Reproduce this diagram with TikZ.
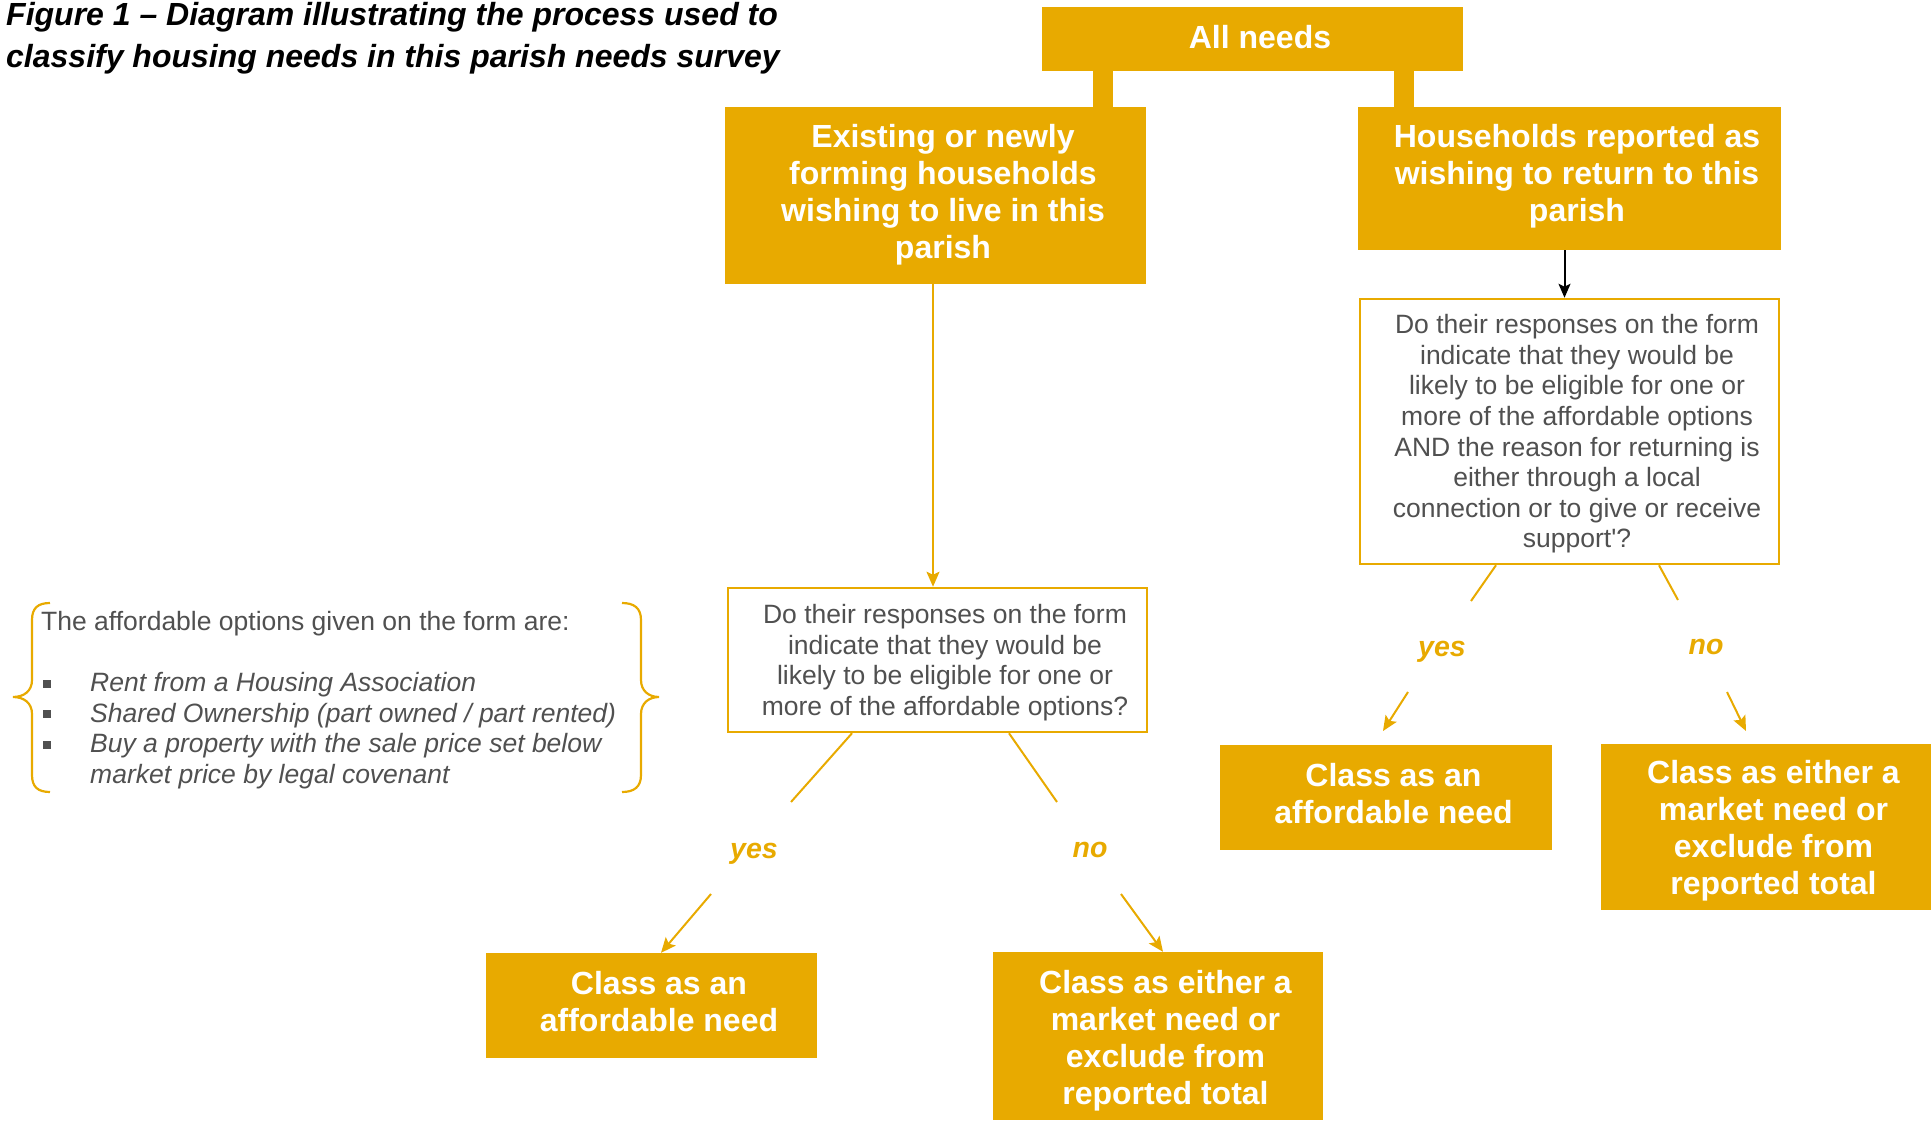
\documentclass[tikz,border=0pt]{standalone}
\usepackage{fontspec}
\setmainfont{Liberation Sans}
\usetikzlibrary{arrows.meta}
\definecolor{gold}{RGB}{232,170,0}
\definecolor{txtgray}{RGB}{80,80,80}
\newcommand{\sqbul}{\makebox[49pt][l]{\hspace{2pt}\textcolor{txtgray}{\rule[4pt]{8pt}{8pt}}}}
% centred lines, shifted right by 7.5pt; optional arg = twice the downward shift
\newcommand{\btxt}[2][0pt]{\raisebox{0pt}[\dimexpr\height+#1\relax][\depth]{%
  \begin{tabular}{@{\hspace{15pt}}c@{}}#2\end{tabular}}}
\begin{document}
\begin{tikzpicture}[x=1pt,y=-1pt,
  fbox/.style={rectangle, fill=gold, text=white, inner sep=0pt,
    font=\fontsize{32pt}{37pt}\selectfont\bfseries},
  qbox/.style={rectangle, draw=gold, line width=2.5pt, fill=white, text=txtgray, inner sep=0pt,
    font=\fontsize{26.5pt}{30.6pt}\selectfont},
  lbl/.style={inner sep=0pt, text=gold, font=\fontsize{28.5pt}{30pt}\selectfont\bfseries\itshape},
  stem/.style={draw=gold, line width=20pt, shorten <=-1pt, shorten >=-1pt},
  link/.style={draw=gold, line width=2pt},
  arr/.style={draw=gold, line width=2pt, -{Stealth[length=15pt,width=13pt,inset=3pt]}},
  blackarr/.style={draw=black, line width=2pt, -{Stealth[length=14pt,width=12pt,inset=3pt]}},
  brace/.style={draw=gold, line width=2.2pt}
]
\useasboundingbox (0,0) rectangle (1931,1121);

% title
\node[anchor=north west, inner sep=0pt, align=left,
  font=\fontsize{32pt}{42pt}\selectfont\bfseries\itshape] (title) at (6,2.3)
  {Figure 1 – Diagram illustrating the process used to\\classify housing needs in this parish needs survey};

% boxes
\node[fbox, minimum width=421pt, minimum height=64pt] (all) at (1252.5,39) {\btxt[3.6pt]{All needs}};
\node[fbox, minimum width=421pt, minimum height=177pt] (exist) at (935.5,195.5)
  {\btxt{Existing or newly\\forming households\\wishing to live in this\\parish}};
\node[fbox, minimum width=423pt, minimum height=143pt] (ret) at (1569.5,178.5)
  {\btxt[-2.5pt]{Households reported as\\wishing to return to this\\parish}};
\node[qbox, minimum width=419pt, minimum height=265pt] (q2) at (1569.5,431.5)
  {\btxt[6.5pt]{Do their responses on the form\\indicate that they would be\\likely to be eligible for one or\\more of the affordable options\\AND the reason for returning is\\either through a local\\connection or to give or receive\\support\textquotesingle?}};
\node[qbox, minimum width=419pt, minimum height=144pt] (q1) at (937.5,660)
  {\btxt[6.5pt]{Do their responses on the form\\indicate that they would be\\likely to be eligible for one or\\more of the affordable options?}};
\node[fbox, minimum width=331pt, minimum height=105pt] (a1) at (651.5,1005.5)
  {\btxt{Class as an\\affordable need}};
\node[fbox, minimum width=330pt, minimum height=168pt] (m1) at (1158,1036)
  {\btxt[11pt]{Class as either a\\market need or\\exclude from\\reported total}};
\node[fbox, minimum width=332pt, minimum height=105pt] (a2) at (1386,797.5)
  {\btxt{Class as an\\affordable need}};
\node[fbox, minimum width=330pt, minimum height=166pt] (m2) at (1766,827)
  {\btxt[9pt]{Class as either a\\market need or\\exclude from\\reported total}};

% labels
\node[lbl] (yes1) at (754,853.5) {yes};
\node[lbl] (no1) at (1090,849.5) {no};
\node[lbl] (yes2) at (1442,652) {yes};
\node[lbl] (no2) at (1706,646.5) {no};

% stems from All needs
\coordinate (sl) at ([xshift=61pt]all.south west);
\coordinate (sr) at ([xshift=-59.5pt]all.south east);
\draw[stem] (sl) -- (sl |- exist.north);
\draw[stem] (sr) -- (sr |- ret.north);

% vertical connectors
\coordinate (eb) at ([xshift=-2.5pt]exist.south);
\draw[arr] (eb) -- (eb |- q1.north);
\coordinate (rb) at ([xshift=-5pt]ret.south);
\draw[blackarr] (rb) -- (rb |- q2.north);

% left question branches
\coordinate (q1ye) at (791,802);
\coordinate (q1ys) at (711,894);
\coordinate (q1ne) at (1057,802);
\coordinate (q1ns) at (1121,894);
\draw[link] ([xshift=-85.5pt]q1.south) -- (q1ye);
\draw[arr] (q1ys) -- ([xshift=9.5pt]a1.north);
\draw[link] ([xshift=71.5pt]q1.south) -- (q1ne);
\draw[arr] (q1ns) -- ([xshift=5pt]m1.north);

% right question branches
\coordinate (q2ye) at (1471,601);
\coordinate (q2ys) at (1408,692);
\coordinate (q2yt) at (1383,731);
\coordinate (q2ne) at (1678,600);
\coordinate (q2ns) at (1727,692);
\coordinate (q2nt) at (1746,731);
\draw[link] ([xshift=-73.5pt]q2.south) -- (q2ye);
\draw[arr] (q2ys) -- (q2yt);
\draw[link] ([xshift=89.5pt]q2.south) -- (q2ne);
\draw[arr] (q2ns) -- (q2nt);

% options note with braces
\node[anchor=north west, inner sep=0pt, align=left, text=txtgray,
  font=\fontsize{26.5pt}{30.6pt}\selectfont] (opts) at (41,611)
  {The affordable options given on the form are:\\[30.6pt]
   \sqbul\textit{Rent from a Housing Association}\\
   \sqbul\textit{Shared Ownership (part owned / part rented)}\\
   \sqbul\textit{Buy a property with the sale price set below}\\
   \hspace*{49pt}\textit{market price by legal covenant}};
\draw[brace] (50,603) .. controls (38,603) and (32,608) .. (32,620) -- (32,680)
  .. controls (32,691) and (24,697) .. (13,697)
  .. controls (24,697) and (32,703) .. (32,714) -- (32,775)
  .. controls (32,787) and (38,792) .. (50,792);
\draw[brace] (622,603) .. controls (634,603) and (641,608) .. (641,620) -- (641,680)
  .. controls (641,691) and (649,697) .. (659,697)
  .. controls (649,697) and (641,703) .. (641,714) -- (641,775)
  .. controls (641,787) and (634,792) .. (622,792);
\end{tikzpicture}
\end{document}
